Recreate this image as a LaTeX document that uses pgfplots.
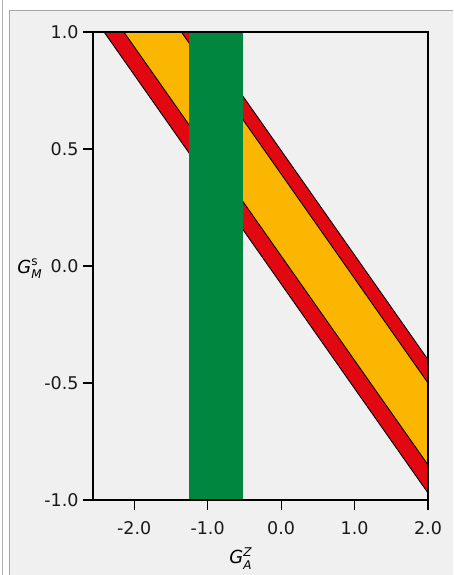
\documentclass[border=0pt]{standalone}
\usepackage{pgfplots}
\pgfplotsset{compat=1.18}
\usepackage{fontspec}
\setmainfont{DejaVu Sans}
\definecolor{bandred}{RGB}{226,8,18}
\definecolor{bandyel}{RGB}{250,182,0}
\definecolor{bandgrn}{RGB}{0,134,62}
\definecolor{paper}{RGB}{240,240,240}
\begin{document}
\begin{tikzpicture}[x=1pt,y=1pt]
\path[use as bounding box] (0,0) rectangle (453,575);
\fill[white] (0,0) rectangle (453,575);
\fill[paper] (9,0) rectangle (453,565);
\draw[gray!70, line width=0.8pt] (9,0) -- (9,565) -- (453,565);
\draw[gray!60, line width=0.8pt] (2.7,0) -- (2.7,575);
\begin{axis}[
  at={(93pt,75pt)}, anchor=south west,
  scale only axis, width=335pt, height=468pt,
  xmin=-2.56, xmax=2.0, ymin=-1, ymax=1,
  axis on top,
  axis background/.style={fill=paper},
  axis line style={line width=1.1pt},
  xtick={-2,-1,0,1,2}, xticklabels={-2.0,-1.0,0.0,1.0,2.0},
  ytick={-1,-0.5,0,0.5,1}, yticklabels={-1.0,-0.5,0.0,0.5,1.0},
  tick align=outside, xtick pos=bottom, ytick pos=left,
  major tick length=10pt,
  tick style={line width=1.1pt, black},
  ticklabel style={font=\fontsize{17.5}{20}\selectfont, text=black!90},
  xticklabel style={yshift=-8pt},
  yticklabel style={xshift=-1pt},
  xlabel={\textit{G}\makebox[0pt][l]{\raisebox{0.75ex}{\fontsize{12}{14}\selectfont\textit{Z}}}\raisebox{-0.6ex}{\fontsize{12}{14}\selectfont\textit{A}}},
  every axis x label/.style={at={(axis description cs:0.44,-0.136)}, anchor=base, font=\fontsize{18}{20}\selectfont},
  ylabel={\textit{G}\makebox[0pt][l]{\raisebox{0.75ex}{\fontsize{12}{14}\selectfont s}}\raisebox{-0.6ex}{\fontsize{12}{14}\selectfont\textit{M}}},
  every axis y label/.style={at={(axis description cs:-0.236,0.485)}, anchor=base west, rotate=0, font=\fontsize{18}{20}\selectfont},
]
% red band (outer)
\addplot[fill=bandred, draw=none] coordinates {(-2.7,1.70) (2,-0.40) (2,-0.97) (-2.7,1.13)} -- cycle;
% yellow band (inner)
\addplot[fill=bandyel, draw=none] coordinates {(-2.7,1.60) (2,-0.50) (2,-0.85) (-2.7,1.25)} -- cycle;
% boundary lines
\addplot[black, line width=0.9pt] coordinates {(-2.7,1.70) (2,-0.40)};
\addplot[black, line width=0.9pt] coordinates {(-2.7,1.60) (2,-0.50)};
\addplot[black, line width=0.9pt] coordinates {(-2.7,1.25) (2,-0.85)};
\addplot[black, line width=0.9pt] coordinates {(-2.7,1.13) (2,-0.97)};
% green band
\addplot[fill=bandgrn, draw=none] coordinates {(-1.25,-1) (-0.52,-1) (-0.52,1) (-1.25,1)} -- cycle;
\end{axis}
\end{tikzpicture}
\end{document}
